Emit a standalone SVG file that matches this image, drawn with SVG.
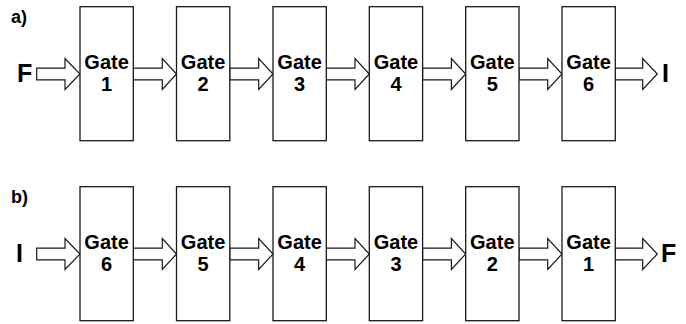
<svg xmlns="http://www.w3.org/2000/svg" width="686" height="324" viewBox="0 0 686 324">
<style>
.box{fill:#fff;stroke:#1a1a1a;stroke-width:1.3}
.arr{fill:#fff;stroke:#1a1a1a;stroke-width:1.2;stroke-linejoin:miter}
.g{font-family:"Liberation Sans",Arial,sans-serif;font-size:20px;font-weight:bold;fill:#000;text-anchor:middle}
.lbl{font-family:"Liberation Sans",Arial,sans-serif;font-size:25px;font-weight:bold;fill:#000}
.pan{font-family:"Liberation Sans",Arial,sans-serif;font-size:18px;font-weight:bold;fill:#000}
</style>
<rect width="686" height="324" fill="#fff"/>
<text class="pan" x="11" y="23">a)</text>
<text class="pan" x="11" y="203">b)</text>
<g id="connectors">
<polygon class="arr" points="36.7,68.2 65,68.2 65,58.5 80,74 65,89.5 65,79.8 36.7,79.8"/>
<polygon class="arr" points="133.3,68.2 162.3,68.2 162.3,58.5 176.5,74 162.3,89.5 162.3,79.8 133.3,79.8"/>
<polygon class="arr" points="229.8,68.2 258.7,68.2 258.7,58.5 273,74 258.7,89.5 258.7,79.8 229.8,79.8"/>
<polygon class="arr" points="326.2,68.2 355,68.2 355,58.5 369.3,74 355,89.5 355,79.8 326.2,79.8"/>
<polygon class="arr" points="422.6,68.2 451.4,68.2 451.4,58.5 465.7,74 451.4,89.5 451.4,79.8 422.6,79.8"/>
<polygon class="arr" points="519,68.2 547.7,68.2 547.7,58.5 562,74 547.7,89.5 547.7,79.8 519,79.8"/>
<polygon class="arr" points="615.3,68.2 642.7,68.2 642.7,58.5 657.3,74 642.7,89.5 642.7,79.8 615.3,79.8"/>
<polygon class="arr" points="36.7,248.2 65,248.2 65,238.5 80,254 65,269.5 65,259.8 36.7,259.8"/>
<polygon class="arr" points="133.3,248.2 162.3,248.2 162.3,238.5 176.5,254 162.3,269.5 162.3,259.8 133.3,259.8"/>
<polygon class="arr" points="229.8,248.2 258.7,248.2 258.7,238.5 273,254 258.7,269.5 258.7,259.8 229.8,259.8"/>
<polygon class="arr" points="326.2,248.2 355,248.2 355,238.5 369.3,254 355,269.5 355,259.8 326.2,259.8"/>
<polygon class="arr" points="422.6,248.2 451.4,248.2 451.4,238.5 465.7,254 451.4,269.5 451.4,259.8 422.6,259.8"/>
<polygon class="arr" points="519,248.2 547.7,248.2 547.7,238.5 562,254 547.7,269.5 547.7,259.8 519,259.8"/>
<polygon class="arr" points="615.3,248.2 642.7,248.2 642.7,238.5 657.3,254 642.7,269.5 642.7,259.8 615.3,259.8"/>
</g>
<g id="a_F"><text class="lbl" x="17" y="82">F</text></g>
<g id="a_I"><text class="lbl" x="662" y="82">I</text></g>
<g id="b_I"><text class="lbl" x="16" y="262">I</text></g>
<g id="b_F"><text class="lbl" x="661" y="262">F</text></g>
<g id="a_gate1"><rect class="box" x="80" y="6.7" width="53.3" height="134"/><text class="g" x="106.6" y="68.5">Gate</text><text class="g" x="106.6" y="90.5">1</text></g>
<g id="a_gate2"><rect class="box" x="176.5" y="6.7" width="53.3" height="134"/><text class="g" x="203.1" y="68.5">Gate</text><text class="g" x="203.1" y="90.5">2</text></g>
<g id="a_gate3"><rect class="box" x="273" y="6.7" width="53.3" height="134"/><text class="g" x="299.6" y="68.5">Gate</text><text class="g" x="299.6" y="90.5">3</text></g>
<g id="a_gate4"><rect class="box" x="369.3" y="6.7" width="53.3" height="134"/><text class="g" x="396" y="68.5">Gate</text><text class="g" x="396" y="90.5">4</text></g>
<g id="a_gate5"><rect class="box" x="465.7" y="6.7" width="53.3" height="134"/><text class="g" x="492.3" y="68.5">Gate</text><text class="g" x="492.3" y="90.5">5</text></g>
<g id="a_gate6"><rect class="box" x="562" y="6.7" width="53.3" height="134"/><text class="g" x="588.6" y="68.5">Gate</text><text class="g" x="588.6" y="90.5">6</text></g>
<g id="b_gate6"><rect class="box" x="80" y="186.7" width="53.3" height="134"/><text class="g" x="106.6" y="248.5">Gate</text><text class="g" x="106.6" y="270.5">6</text></g>
<g id="b_gate5"><rect class="box" x="176.5" y="186.7" width="53.3" height="134"/><text class="g" x="203.1" y="248.5">Gate</text><text class="g" x="203.1" y="270.5">5</text></g>
<g id="b_gate4"><rect class="box" x="273" y="186.7" width="53.3" height="134"/><text class="g" x="299.6" y="248.5">Gate</text><text class="g" x="299.6" y="270.5">4</text></g>
<g id="b_gate3"><rect class="box" x="369.3" y="186.7" width="53.3" height="134"/><text class="g" x="396" y="248.5">Gate</text><text class="g" x="396" y="270.5">3</text></g>
<g id="b_gate2"><rect class="box" x="465.7" y="186.7" width="53.3" height="134"/><text class="g" x="492.3" y="248.5">Gate</text><text class="g" x="492.3" y="270.5">2</text></g>
<g id="b_gate1"><rect class="box" x="562" y="186.7" width="53.3" height="134"/><text class="g" x="588.6" y="248.5">Gate</text><text class="g" x="588.6" y="270.5">1</text></g>
</svg>
